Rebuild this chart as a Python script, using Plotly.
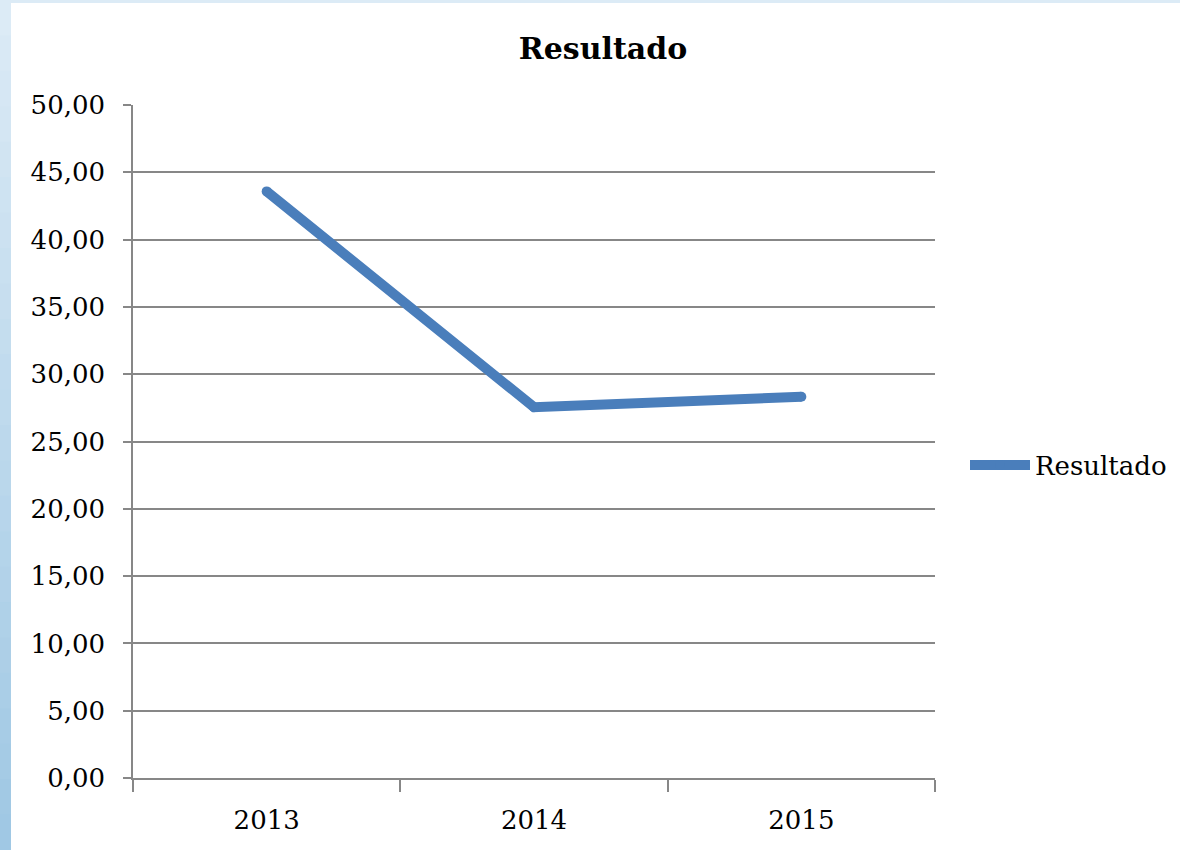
import plotly.graph_objects as go

years = ["2013", "2014", "2015"]
resultado = [43.58, 27.55, 28.32]
y_ticks = [0, 5, 10, 15, 20, 25, 30, 35, 40, 45, 50]
y_tick_labels = ["0,00", "5,00", "10,00", "15,00", "20,00", "25,00",
                 "30,00", "35,00", "40,00", "45,00", "50,00"]

FONT = "DejaVu Serif"
GRAY = "#878787"

fig = go.Figure()
fig.add_trace(go.Scatter(
    x=years, y=resultado, mode="lines+markers", name="Resultado",
    line=dict(color="#4A7EBB", width=10),
    marker=dict(color="#4A7EBB", size=10, line=dict(width=0)),
))

shapes = []
n = 24
L, R, T, B = 133, 245, 105, 72
W, H = 1180, 850
pw, ph = W - L - R, H - T - B
def px_x(p):
    return (p - L) / pw
def px_y(p):
    return (H - B - p) / ph
c_top = (220, 235, 246)
c_bot = (160, 200, 228)
for i in range(n):
    f = i / (n - 1)
    col = tuple(int(c_top[k] + (c_bot[k] - c_top[k]) * f) for k in range(3))
    y0 = H * i / n
    y1 = H * (i + 1) / n + 1
    shapes.append(dict(type="rect", xref="paper", yref="paper",
                       x0=px_x(0), x1=px_x(11), y0=px_y(y1), y1=px_y(y0),
                       fillcolor="rgb(%d,%d,%d)" % col, line=dict(width=0),
                       layer="below"))
shapes.append(dict(type="rect", xref="paper", yref="paper",
                   x0=px_x(0), x1=px_x(W), y0=px_y(3), y1=px_y(0),
                   fillcolor="rgb(220,235,246)", line=dict(width=0), layer="below"))

fig.update_layout(
    width=W, height=H,
    margin=dict(l=L, r=R, t=T, b=B, autoexpand=False),
    paper_bgcolor="white", plot_bgcolor="white",
    title=dict(text="<b>Resultado</b>", x=603 / W, xanchor="center",
               y=1 - 48 / H, yanchor="middle",
               font=dict(family=FONT, size=30, color="black")),
    font=dict(family=FONT, size=26, color="black"),
    xaxis=dict(
        type="category", tickson="boundaries", ticks="outside", ticklen=12,
        tickwidth=1.5, tickcolor=GRAY, showline=True, linecolor=GRAY,
        linewidth=1.5, showgrid=False, tickfont=dict(family=FONT, size=26),
        range=[-0.5, 2.5], ticklabelstandoff=18, automargin=False,
    ),
    yaxis=dict(
        range=[0, 50], tickvals=y_ticks, ticktext=y_tick_labels,
        ticks="outside", ticklen=8, tickwidth=1.5, tickcolor=GRAY,
        showline=True, linecolor=GRAY, linewidth=1.5,
        showgrid=True, gridcolor=GRAY, gridwidth=1.5, zeroline=False,
        tickfont=dict(family=FONT, size=26), ticklabelstandoff=13,
        automargin=False,
    ),
    legend=dict(x=px_x(965), y=px_y(465), xanchor="left", yanchor="middle",
                font=dict(family=FONT, size=26), bgcolor="rgba(0,0,0,0)",
                itemwidth=60),
    showlegend=True,
    shapes=shapes,
)

fig.write_html(
    "out.html",
    config={"displayModeBar": False, "responsive": False},
    post_script=(
        "document.body.style.margin='0';"
        "document.body.style.overflow='hidden';"
        "document.documentElement.style.overflow='hidden';"
    ),
)
